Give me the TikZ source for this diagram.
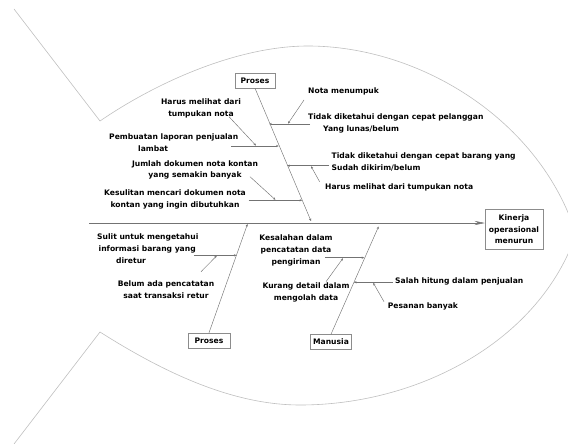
\documentclass[tikz,border=0pt]{standalone}
\usepackage{fontspec}
\setmainfont{DejaVu Sans}
\usetikzlibrary{arrows.meta}
\tikzset{
  outline/.style={draw=black!25, line width=0.6pt},
  bone/.style={draw=black!55, line width=0.45pt},
  tip/.style={bone, -{Stealth[length=2.6pt,width=2.2pt]}},
  lbl/.style={font=\fontsize{7.6}{11.8}\selectfont\bfseries, text=black, inner sep=0pt},
  catbox/.style={lbl, draw=black!45, line width=0.5pt, fill=white, minimum height=15pt, inner sep=2pt},
}
\newcommand{\leftlines}[1]{\renewcommand{\arraystretch}{1}\setlength{\tabcolsep}{0pt}\begin{tabular}{@{}l@{}}#1\end{tabular}}
\newcommand{\indentby}[1]{\rule{#1}{0pt}}
\begin{document}
\begin{tikzpicture}[x=1pt,y=-1pt]
\useasboundingbox (0,0) rectangle (568,444);
\clip (0,0) rectangle (568,444);
% fish outline
\coordinate (tailT) at (14,9);
\coordinate (neckT) at (100,121);
\coordinate (neckB) at (100,332);
\coordinate (tailB) at (14,444);
\coordinate (head) at (576,234);
\draw[outline] (tailT) -- (neckT) .. controls (160,80) and (240,46) .. (308,46)
  .. controls (420,46) and (540,120) .. (head);
\draw[outline] (tailB) -- (neckB) .. controls (160,370) and (230,405) .. (300,405)
  .. controls (420,405) and (540,340) .. (head);
% effect
\node[catbox, align=center, minimum width=58pt, minimum height=40pt] (K) at (514,229.3) {Kinerja\\operasional\\menurun};
\coordinate (spineL) at (89,223);
\draw[bone, -{Stealth[length=10pt,width=4pt]}] (spineL) -- (spineL -| K.west);
% categories
\node[catbox, minimum width=40pt] (P1) at (255,80.5) {Proses};
\node[catbox, minimum width=42pt] (P2) at (209,340.5) {Proses};
\node[catbox, minimum width=41pt] (M) at (331,342) {Manusia};
\coordinate (e1) at (311,221);
\coordinate (e2) at (247.5,224);
\coordinate (e3) at (378.6,226.5);
\draw[tip] (P1.south) -- (e1);
\draw[tip] (P2.north) -- (e2);
\draw[tip] (M.north) -- (e3);
% ---- top Proses causes
\node[lbl, anchor=west] (t1) at (308,91) {Nota menumpuk};
\node[lbl, anchor=west] (t2) at (308,123.5) {\leftlines{Tidak diketahui dengan cepat pelanggan\\\indentby{15pt}Yang lunas/belum}};
\coordinate (s1a) at (310,124);
\coordinate (s1b) at (269.2,124);
\coordinate (s1c) at (288,123.6);
\draw[tip] (s1a) -- (s1b);
\draw[tip] (304,100) -- (s1c);
\node[lbl, align=center] (t3) at (201,108.7) {Harus melihat dari\\tumpukan nota};
\node[lbl, anchor=west] (t4) at (109,143.5) {\leftlines{Pembuatan laporan penjualan\\\indentby{29pt}lambat}};
\coordinate (s2a) at (231,146);
\coordinate (s2b) at (278.7,146);
\coordinate (s2c) at (256,145.6);
\draw[tip] (s2a) -- (s2b);
\draw[tip] (229,116.7) -- (s2c);
\node[lbl, anchor=north west, align=left] (t5) at (331.5,152.5) {Tidak diketahui dengan cepat barang yang\\Sudah dikirim/belum};
\node[lbl, anchor=west] (t6) at (325,187.7) {Harus melihat dari tumpukan nota};
\coordinate (s3a) at (329,165.7);
\coordinate (s3b) at (287.2,165.7);
\coordinate (s3c) at (311,166.2);
\draw[tip] (s3a) -- (s3b);
\draw[tip] (319.6,181.7) -- (s3c);
\node[lbl, align=center] (t7) at (195,170) {Jumlah dokumen nota kontan\\yang semakin banyak};
\node[lbl, align=center] (t8) at (175,199.3) {Kesulitan mencari dokumen nota\\kontan yang ingin dibutuhkan};
\coordinate (s4a) at (248.6,200.3);
\coordinate (s4b) at (302.2,200.3);
\coordinate (s4c) at (275.4,199.8);
\draw[tip] (s4a) -- (s4b);
\draw[tip] (250,176.7) -- (s4c);
% ---- bottom Proses causes
\node[lbl, anchor=west] (t9) at (97,249) {\leftlines{Sulit untuk mengetahui\\\indentby{1.5pt}informasi barang yang\\\indentby{19pt}diretur}};
\node[lbl, align=center] (t10) at (166,290) {Belum ada pencatatan\\saat transaksi retur};
\coordinate (s5a) at (193.8,255.3);
\coordinate (s5b) at (236.5,255.3);
\coordinate (s5c) at (216.7,255.8);
\draw[tip] (s5a) -- (s5b);
\draw[tip] (201,271.7) -- (s5c);
% ---- Manusia causes
\node[lbl, align=center] (t11) at (296,250.5) {Kesalahan dalam\\pencatatan data\\pengiriman};
\node[lbl, align=center] (t12) at (306,292.7) {Kurang detail dalam\\mengolah data};
\coordinate (s6a) at (325.4,257.7);
\coordinate (s6b) at (364.3,257.7);
\coordinate (s6c) at (343,258.2);
\draw[tip] (s6a) -- (s6b);
\draw[tip] (326,281.7) -- (s6c);
\node[lbl, anchor=west] (t13) at (395,281.7) {Salah hitung dalam penjualan};
\node[lbl, anchor=west] (t14) at (387.7,306.7) {Pesanan banyak};
\coordinate (s7a) at (393,282.3);
\coordinate (s7b) at (353.9,282.3);
\coordinate (s7c) at (373.2,282.8);
\draw[tip] (s7a) -- (s7b);
\draw[tip] (384,301.7) -- (s7c);
\end{tikzpicture}
\end{document}
